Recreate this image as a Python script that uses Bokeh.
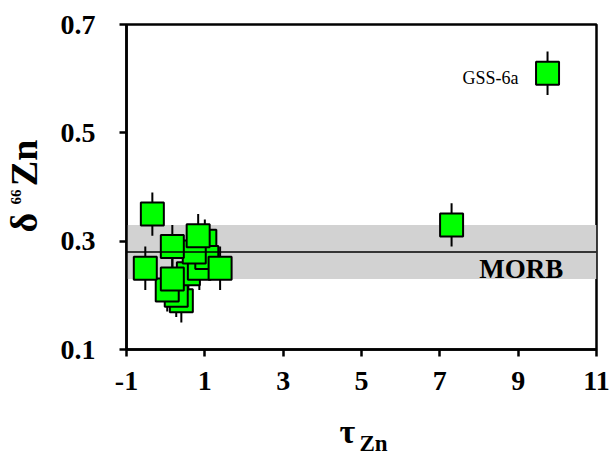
from bokeh.plotting import figure
from bokeh.models import Range1d, FixedTicker, BoxAnnotation, Span, Label, Title
from bokeh.embed import file_html
from bokeh.resources import INLINE

# ---- data ----
tau_zn = [0.40, 0.27, 0.04, 0.58, 0.86, 1.00, 1.05, 0.73,
          0.17, -0.52, 1.39, 0.17, 0.83, -0.34, 7.30, 9.75]
d66zn = [0.19, 0.20, 0.21, 0.24, 0.25, 0.30, 0.27, 0.28,
         0.23, 0.25, 0.25, 0.29, 0.31, 0.35, 0.33, 0.61]
err = [0.04] * len(d66zn)

morb_mean = 0.28
morb_low = 0.23
morb_high = 0.33

x_ticks = [-1, 1, 3, 5, 7, 9, 11]
x_tick_labels = ["-1", "1", "3", "5", "7", "9", "11"]
y_ticks = [0.1, 0.3, 0.5, 0.7]
y_tick_labels = ["0.1", "0.3", "0.5", "0.7"]

FONT = "Liberation Serif"

p = figure(width=611, height=456, output_backend="svg", toolbar_location=None,
           x_range=Range1d(-1, 11), y_range=Range1d(0.1, 0.7),
           min_border_left=125, min_border_right=15, min_border_top=24,
           min_border_bottom=107)

p.xgrid.visible = False
p.ygrid.visible = False
p.outline_line_color = "black"
p.outline_line_width = 2.5
p.outline_line_alpha = 1

for ax in (p.xaxis[0], p.yaxis[0]):
    ax.axis_line_width = 2.5
    ax.major_tick_line_width = 2.5
    ax.major_tick_out = 7
    ax.major_tick_in = 0
    ax.minor_tick_out = 0
    ax.minor_tick_in = 0
    ax.major_label_text_font = FONT
    ax.major_label_text_font_style = "bold"
    ax.major_label_text_font_size = "28px"
    ax.major_label_text_color = "black"
    ax.axis_label = None

p.xaxis.ticker = FixedTicker(ticks=x_ticks)
p.yaxis.ticker = FixedTicker(ticks=y_ticks)
p.xaxis.major_label_overrides = {t: l for t, l in zip(x_ticks, x_tick_labels)}
p.yaxis.major_label_overrides = {t: l for t, l in zip(y_ticks, y_tick_labels)}
p.xaxis.major_label_standoff = 15
p.yaxis.major_label_standoff = 24

# MORB band and mean line
p.add_layout(BoxAnnotation(bottom=morb_low, top=morb_high, fill_color="#D2D2D2",
                           fill_alpha=1, line_alpha=0, level="underlay"))
p.add_layout(Span(location=morb_mean, dimension="width", line_color="black",
                  line_width=1.5))

# error bars then squares
p.segment(x0=tau_zn, x1=tau_zn,
          y0=[v - e for v, e in zip(d66zn, err)],
          y1=[v + e for v, e in zip(d66zn, err)],
          line_color="black", line_width=2)
p.scatter(tau_zn, d66zn, marker="square", size=23, fill_color="#00FF00",
          line_color="black", line_width=2)

# annotations
p.add_layout(Label(x=10.15, y=0.248, text="MORB", text_font=FONT,
                   text_font_style="bold", text_font_size="27px", text_color="black",
                   text_align="right", text_baseline="alphabetic"))
p.add_layout(Label(x=9.01, y=0.602, text="GSS-6a", text_font=FONT,
                   text_font_size="18px", text_color="black", text_align="right",
                   text_baseline="alphabetic"))

# y axis label: δ66Zn (rotated; spacer, main text, raised "66")
p.add_layout(Title(text="\u00a0", standoff=9.5, text_font_size="1px"), "left")
p.add_layout(Title(text="δ\u2002\u2009Zn", align="left", offset=117, standoff=0,
                   text_font=FONT, text_font_style="bold", text_font_size="38px",
                   text_color="black"), "left")
p.add_layout(Title(text="66", align="left", offset=145, standoff=-40.5,
                   text_font=FONT, text_font_style="bold", text_font_size="15px",
                   text_color="black"), "left")

# x axis label: τZn (spacer, then τ, then subscript row)
p.add_layout(Title(text="\u00a0", standoff=25.6, text_font_size="1px"), "below")
p.add_layout(Title(text="τ", align="left", offset=213, standoff=-17.7,
                   vertical_align="top",
                   text_font=FONT, text_font_style="bold", text_font_size="34px",
                   text_color="black"), "below")
p.add_layout(Title(text="Zn", align="left", offset=233, standoff=-23,
                   vertical_align="top",
                   text_font=FONT, text_font_style="bold", text_font_size="23px",
                   text_color="black"), "below")

open("out.html", "w").write(file_html(p, INLINE))
